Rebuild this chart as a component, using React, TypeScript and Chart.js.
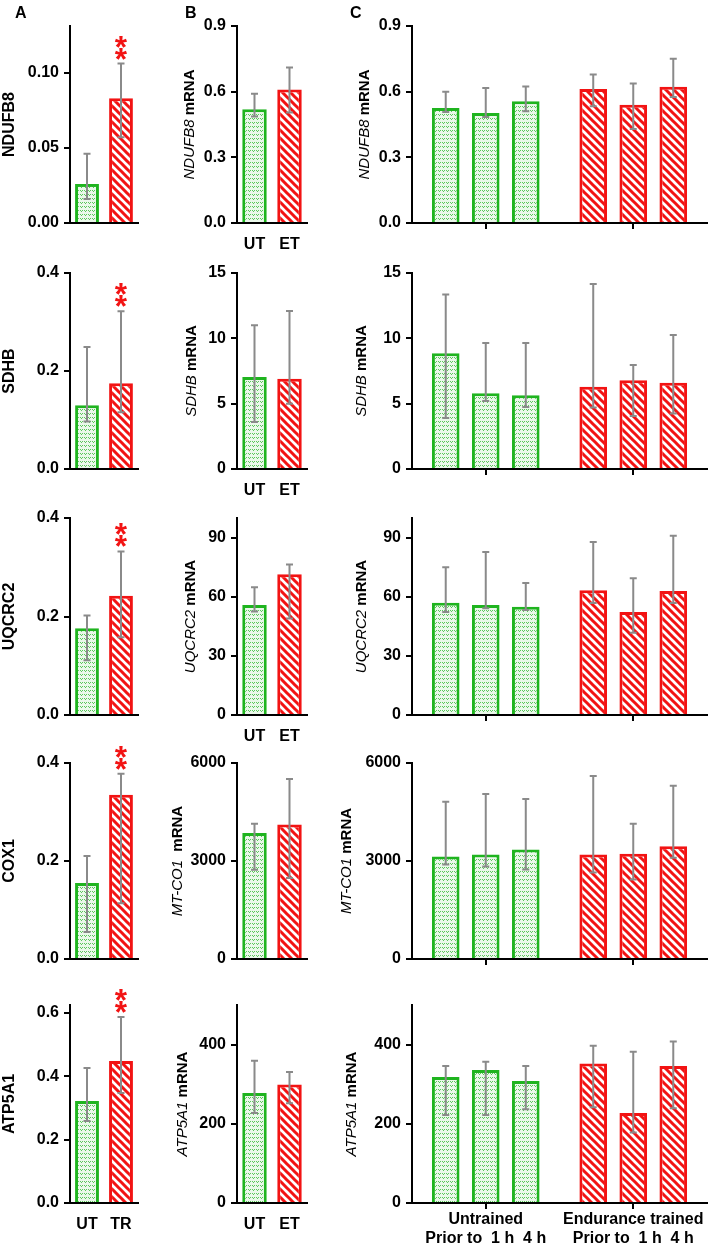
import React, { useEffect, useRef } from "react";
import { Chart, registerables } from "chart.js";
Chart.register(...registerables);

const FONT = "'Liberation Sans', Arial, Helvetica, sans-serif";
const GREEN = "#1fb41f";
const RED = "#f21313";
const ERR = "#8a8a8a";

// ---------------- data ----------------
const proteinNames = ["NDUFB8", "SDHB", "UQCRC2", "COX1", "ATP5A1"];
const geneNames = ["NDUFB8", "SDHB", "UQCRC2", "MT-CO1", "ATP5A1"];
const proteinGroups = ["UT", "TR"];
const mrnaGroups = ["UT", "ET"];
const studyGroups = ["Untrained", "Endurance trained"];
const timepoints = ["Prior to", "1 h", "4 h"];
const timeLine = "Prior to  1 h  4 h";

const proteinMeans = [
  [0.026, 0.083],
  [0.13, 0.175],
  [0.176, 0.242],
  [0.155, 0.335],
  [0.322, 0.448],
];
const proteinLow = [
  [0.016, 0.057],
  [0.097, 0.116],
  [0.111, 0.158],
  [0.055, 0.114],
  [0.259, 0.347],
];
const proteinHigh = [
  [0.046, 0.106],
  [0.249, 0.322],
  [0.202, 0.332],
  [0.21, 0.378],
  [0.426, 0.587],
];
const proteinStars = [2, 2, 2, 2, 2];

const mrnaMeans = [
  [0.52, 0.61],
  [7.05, 6.9],
  [55.8, 71.5],
  [3860, 4120],
  [278, 299],
];
const mrnaLow = [
  [0.487, 0.505],
  [3.6, 5.0],
  [52.5, 49],
  [2730, 2480],
  [227, 252],
];
const mrnaHigh = [
  [0.59, 0.71],
  [11.0, 12.1],
  [64.8, 76.4],
  [4140, 5510],
  [359, 331],
];

const untrainedMeans = [
  [0.525, 0.502, 0.556],
  [8.85, 5.8, 5.65],
  [57.0, 55.8, 55.0],
  [3140, 3200, 3350],
  [318, 336, 308],
];
const untrainedLow = [
  [0.507, 0.484, 0.51],
  [3.9, 5.2, 4.75],
  [52.3, 54.2, 53.3],
  [2890, 2830, 2740],
  [222, 222, 237],
];
const untrainedHigh = [
  [0.6, 0.617, 0.624],
  [13.35, 9.65, 9.65],
  [75, 82.7, 67],
  [4810, 5050, 4900],
  [346, 357, 346],
];
const trainedMeans = [
  [0.612, 0.54, 0.622],
  [6.3, 6.8, 6.6],
  [63.3, 52.3, 62.9],
  [3200, 3220, 3450],
  [352, 227, 346],
];
const trainedLow = [
  [0.533, 0.429, 0.576],
  [4.7, 4.05, 4.25],
  [56.8, 41.8, 56.8],
  [2650, 2430, 3100],
  [242, 178, 239],
];
const trainedHigh = [
  [0.678, 0.637, 0.75],
  [14.15, 7.95, 10.25],
  [87.8, 69.4, 91],
  [5600, 4140, 5300],
  [397, 382, 408],
];

const proteinMax = [0.131, 0.4, 0.4, 0.4, 0.625];
const proteinStep = [0.05, 0.2, 0.2, 0.2, 0.2];
const mrnaMax = [0.9, 15, 100, 6000, 500];
const mrnaStep = [0.3, 5, 30, 3000, 200];
const mrnaSpacer = [" ", " ", " ", "  ", " "];

// ---------------- layout ----------------
const rowTop = [26, 273, 518, 763, 1005];
const rowBottom = [223, 469, 715, 959, 1203];
const PAD_TOP = 40;
const XH = 55;
const colA = { left: 0, width: 140, yw: 70, padRight: 2 };
const colB = { left: 160, width: 150, yw: 77, padRight: 3 };
const colC = { left: 330, width: 379, yw: 82, padRight: 2 };
const titleXA = [10, 10, 10, 10, 10];
const titleXB = [190, 192, 191, 178, 183];
const titleXC = [365, 362, 362, 347, 352];

type Series = { means: number[]; lo: number[]; hi: number[]; stars: number[] };
type TitlePart = { text: string; font: string };
type Spec = {
  key: string;
  left: number;
  top: number;
  width: number;
  height: number;
  yw: number;
  padRight: number;
  labels: (string | string[])[];
  series: Series[];
  barPct: number;
  catPct: number;
  xTicks: boolean;
  showLabels: boolean;
  yMax: number;
  yStep: number;
  decimals: number;
  title: TitlePart[];
  titleX: number;
};

const decimalsFor = (step: number) => (step < 0.1 ? 2 : step < 1 ? 1 : 0);

function buildSpecs(): Spec[] {
  const specs: Spec[] = [];
  for (let r = 0; r < 5; r++) {
    const top = rowTop[r] - PAD_TOP;
    const height = PAD_TOP + (rowBottom[r] - rowTop[r]) + XH;
    specs.push({
      key: "A" + r,
      left: colA.left,
      top,
      width: colA.width,
      height,
      yw: colA.yw,
      padRight: colA.padRight,
      labels: proteinGroups,
      series: [
        {
          means: proteinMeans[r],
          lo: proteinLow[r],
          hi: proteinHigh[r],
          stars: [0, proteinStars[r]],
        },
      ],
      barPct: 0.7,
      catPct: 1,
      xTicks: false,
      showLabels: r === 4,
      yMax: proteinMax[r],
      yStep: proteinStep[r],
      decimals: decimalsFor(proteinStep[r]),
      title: [{ text: proteinNames[r], font: `bold 16px ${FONT}` }],
      titleX: titleXA[r] - colA.left,
    });
    specs.push({
      key: "B" + r,
      left: colB.left,
      top,
      width: colB.width,
      height,
      yw: colB.yw,
      padRight: colB.padRight,
      labels: mrnaGroups,
      series: [{ means: mrnaMeans[r], lo: mrnaLow[r], hi: mrnaHigh[r], stars: [0, 0] }],
      barPct: 0.7,
      catPct: 1,
      xTicks: false,
      showLabels: r !== 3,
      yMax: mrnaMax[r],
      yStep: mrnaStep[r],
      decimals: decimalsFor(mrnaStep[r]),
      title: [
        { text: geneNames[r], font: `italic 15px ${FONT}` },
        { text: mrnaSpacer[r] + "mRNA", font: `bold 15px ${FONT}` },
      ],
      titleX: titleXB[r] - colB.left,
    });
    specs.push({
      key: "C" + r,
      left: colC.left,
      top,
      width: colC.width,
      height,
      yw: colC.yw,
      padRight: colC.padRight,
      labels: studyGroups.map((g) => [g, timeLine]),
      series: timepoints.map((_, t) => ({
        means: [untrainedMeans[r][t], trainedMeans[r][t]],
        lo: [untrainedLow[r][t], trainedLow[r][t]],
        hi: [untrainedHigh[r][t], trainedHigh[r][t]],
        stars: [0, 0],
      })),
      barPct: 0.69,
      catPct: 0.814,
      xTicks: true,
      showLabels: r === 4,
      yMax: mrnaMax[r],
      yStep: mrnaStep[r],
      decimals: decimalsFor(mrnaStep[r]),
      title: [
        { text: geneNames[r], font: `italic 15px ${FONT}` },
        { text: " mRNA", font: `bold 15px ${FONT}` },
      ],
      titleX: titleXC[r] - colC.left,
    });
  }
  return specs;
}

const SPECS = buildSpecs();

function greenPattern(ctx: CanvasRenderingContext2D) {
  const c = document.createElement("canvas");
  c.width = 4;
  c.height = 4;
  const g = c.getContext("2d")!;
  g.fillStyle = "#eaf8ea";
  g.fillRect(0, 0, 4, 4);
  g.fillStyle = "#5cc65c";
  g.fillRect(0, 0, 1, 1);
  g.fillRect(2, 0, 1, 1);
  g.fillRect(1, 1, 1, 1);
  return ctx.createPattern(c, "repeat")!;
}

function redPattern(ctx: CanvasRenderingContext2D) {
  const s = 8;
  const c = document.createElement("canvas");
  c.width = s;
  c.height = s;
  const g = c.getContext("2d")!;
  g.fillStyle = "#ffffff";
  g.fillRect(0, 0, s, s);
  g.strokeStyle = RED;
  g.lineWidth = 3;
  g.beginPath();
  g.moveTo(-2, -2);
  g.lineTo(s + 2, s + 2);
  g.moveTo(-2, s - 2);
  g.lineTo(2, s + 2);
  g.moveTo(s - 2, -2);
  g.lineTo(s + 2, 2);
  g.stroke();
  return ctx.createPattern(c, "repeat")!;
}

function errorPlugin(spec: Spec) {
  return {
    id: "errbars",
    afterDatasetsDraw(chart: any) {
      const ctx: CanvasRenderingContext2D = chart.ctx;
      const y = chart.scales.y;
      spec.series.forEach((s, di) => {
        const meta = chart.getDatasetMeta(di);
        meta.data.forEach((bar: any, i: number) => {
          const x = bar.x;
          const yl = y.getPixelForValue(s.lo[i]);
          const yh = y.getPixelForValue(s.hi[i]);
          ctx.save();
          ctx.strokeStyle = ERR;
          ctx.lineWidth = 2;
          ctx.beginPath();
          ctx.moveTo(x, yl);
          ctx.lineTo(x, yh);
          ctx.moveTo(x - 3.5, yl);
          ctx.lineTo(x + 3.5, yl);
          ctx.moveTo(x - 3.5, yh);
          ctx.lineTo(x + 3.5, yh);
          ctx.stroke();
          const n = s.stars[i] || 0;
          if (n > 0) {
            ctx.font = `bold 100px ${FONT}`;
            const m0 = ctx.measureText("*");
            const h0 = m0.actualBoundingBoxAscent + m0.actualBoundingBoxDescent;
            const size = (12 / h0) * 100;
            ctx.font = `bold ${size}px ${FONT}`;
            const m = ctx.measureText("*");
            const a = m.actualBoundingBoxAscent;
            const d = m.actualBoundingBoxDescent;
            ctx.fillStyle = RED;
            ctx.textAlign = "center";
            ctx.textBaseline = "alphabetic";
            for (let k = 0; k < n; k++) {
              const yc = yh - 10 - 12 * k;
              ctx.fillText("*", x, yc + (a - d) / 2);
            }
          }
          ctx.restore();
        });
      });
    },
  };
}

function titlePlugin(spec: Spec) {
  return {
    id: "ytitle",
    afterDraw(chart: any) {
      const ctx: CanvasRenderingContext2D = chart.ctx;
      const area = chart.chartArea;
      const yMid = (area.top + area.bottom) / 2;
      ctx.save();
      ctx.translate(spec.titleX, yMid);
      ctx.rotate(-Math.PI / 2);
      ctx.fillStyle = "#000";
      ctx.textBaseline = "middle";
      ctx.textAlign = "left";
      let total = 0;
      const widths = spec.title.map((p) => {
        ctx.font = p.font;
        const w = ctx.measureText(p.text).width;
        total += w;
        return w;
      });
      let x = -total / 2;
      spec.title.forEach((p, i) => {
        ctx.font = p.font;
        ctx.fillText(p.text, x, 0);
        x += widths[i];
      });
      ctx.restore();
    },
  };
}

function Panel({ spec }: { spec: Spec }) {
  const ref = useRef<HTMLCanvasElement>(null);
  useEffect(() => {
    const canvas = ref.current!;
    const ctx = canvas.getContext("2d")!;
    const fills = [greenPattern(ctx), redPattern(ctx)];
    const borders = [GREEN, RED];
    const chart = new Chart(canvas, {
      type: "bar",
      data: {
        labels: spec.labels as any,
        datasets: spec.series.map((s, i) => ({
          label: spec.series.length > 1 ? timepoints[i] : "mean",
          data: s.means,
          backgroundColor: (c: any) => fills[c.dataIndex],
          borderColor: (c: any) => borders[c.dataIndex],
          borderWidth: 3,
          barPercentage: spec.barPct,
          categoryPercentage: spec.catPct,
        })),
      },
      options: {
        responsive: false,
        maintainAspectRatio: false,
        animation: false,
        events: [],
        layout: { padding: { top: PAD_TOP, right: spec.padRight, left: 0, bottom: 0 } },
        plugins: { legend: { display: false }, tooltip: { enabled: false } },
        scales: {
          x: {
            offset: true,
            grid: {
              display: spec.xTicks,
              drawOnChartArea: false,
              drawTicks: true,
              tickLength: 6,
              offset: false,
              color: "#000",
              lineWidth: 2,
            },
            border: { display: true, color: "#000", width: 2 },
            ticks: {
              display: spec.showLabels,
              color: "#000",
              font: { family: FONT, size: 16, weight: "bold", lineHeight: 1.2 },
              padding: spec.xTicks ? 1 : 6,
              maxRotation: 0,
              minRotation: 0,
              autoSkip: false,
            },
            afterFit: (s: any) => {
              s.height = XH;
            },
          },
          y: {
            min: 0,
            max: spec.yMax,
            grid: {
              drawOnChartArea: false,
              drawTicks: true,
              tickLength: 6,
              color: "#000",
              lineWidth: 2,
            },
            border: { display: true, color: "#000", width: 2 },
            ticks: {
              stepSize: spec.yStep,
              includeBounds: false,
              color: "#000",
              font: { family: FONT, size: 16, weight: "bold" },
              padding: 5,
              callback: (v: any) => Number(v).toFixed(spec.decimals),
            },
            afterFit: (s: any) => {
              s.width = spec.yw;
            },
          },
        },
      } as any,
      plugins: [errorPlugin(spec), titlePlugin(spec)],
    });
    return () => chart.destroy();
  }, [spec]);
  return (
    <canvas
      ref={ref}
      width={spec.width}
      height={spec.height}
      style={{
        position: "absolute",
        left: spec.left,
        top: spec.top,
        width: spec.width,
        height: spec.height,
      }}
    />
  );
}

const letterStyle = (left: number): React.CSSProperties => ({
  position: "absolute",
  left,
  top: 3,
  font: `bold 16px ${FONT}`,
  lineHeight: "20px",
  color: "#000",
});

export default function App() {
  return (
    <div
      style={{
        position: "absolute",
        left: 0,
        top: 0,
        width: 709,
        height: 1251,
        overflow: "hidden",
        background: "#fff",
      }}
    >
      {SPECS.map((s) => (
        <Panel key={s.key} spec={s} />
      ))}
      <div style={letterStyle(15)}>A</div>
      <div style={letterStyle(185)}>B</div>
      <div style={letterStyle(350)}>C</div>
    </div>
  );
}
